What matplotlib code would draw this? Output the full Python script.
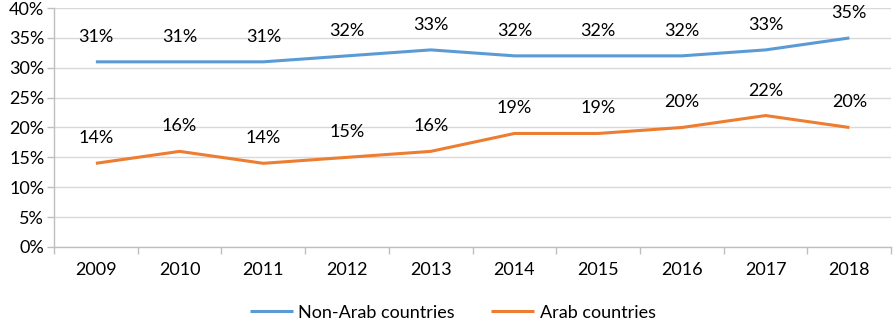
import numpy as np
import matplotlib.pyplot as plt
from matplotlib.ticker import FixedLocator, FuncFormatter

plt.rcParams['font.family'] = ['Lato', 'DejaVu Sans']

years = ['2009', '2010', '2011', '2012', '2013', '2014', '2015', '2016', '2017', '2018']
non_arab = [31, 31, 31, 32, 33, 32, 32, 32, 33, 35]
arab = [14, 16, 14, 15, 16, 19, 19, 20, 22, 20]

BLUE = '#5B9BD5'
ORANGE = '#ED7D31'
GRID = '#D9D9D9'
FS = 13

fig = plt.figure(figsize=(8.93, 3.24), dpi=100)
ax = fig.add_axes([0.0605, 0.238, 0.9375, 0.737])

x = np.arange(len(years))
ax.plot(x, non_arab, color=BLUE, lw=2.2, label='Non-Arab countries', solid_capstyle='butt')
ax.plot(x, arab, color=ORANGE, lw=2.2, label='Arab countries', solid_capstyle='butt')

# data labels above each point
for xi, v in zip(x, non_arab):
    ax.annotate(f'{v}%', (xi, v), xytext=(0, 18), textcoords='offset points',
                ha='center', va='center', fontsize=FS, color='#000000')
for xi, v in zip(x, arab):
    ax.annotate(f'{v}%', (xi, v), xytext=(0, 18), textcoords='offset points',
                ha='center', va='center', fontsize=FS, color='#000000')

ax.set_xlim(-0.5, len(years) - 0.5)
ax.set_ylim(0, 40)
ax.set_yticks(np.arange(0, 41, 5))
ax.yaxis.set_major_formatter(FuncFormatter(lambda v, p: f'{int(v)}%'))
ax.set_xticks(x)
ax.set_xticklabels(years)
ax.xaxis.set_minor_locator(FixedLocator(np.arange(-0.5, len(years), 1.0)))
ax.tick_params(axis='x', which='major', length=0, pad=11, labelsize=FS)
ax.tick_params(axis='x', which='minor', length=5, color='#BFBFBF', width=1)
ax.tick_params(axis='y', which='major', length=5, color='#BFBFBF', width=1, labelsize=FS, pad=2)

ax.grid(axis='y', color=GRID, lw=1)
ax.set_axisbelow(True)
for s in ['top', 'right']:
    ax.spines[s].set_visible(False)
for s in ['left', 'bottom']:
    ax.spines[s].set_color('#BFBFBF')
    ax.spines[s].set_linewidth(1)

fig.legend(loc='center', bbox_to_anchor=(0.507, 0.035), ncol=2, frameon=False,
           fontsize=FS, handlelength=2.4, columnspacing=2.0, handletextpad=0.3)

fig.savefig('out.png', dpi=100)
